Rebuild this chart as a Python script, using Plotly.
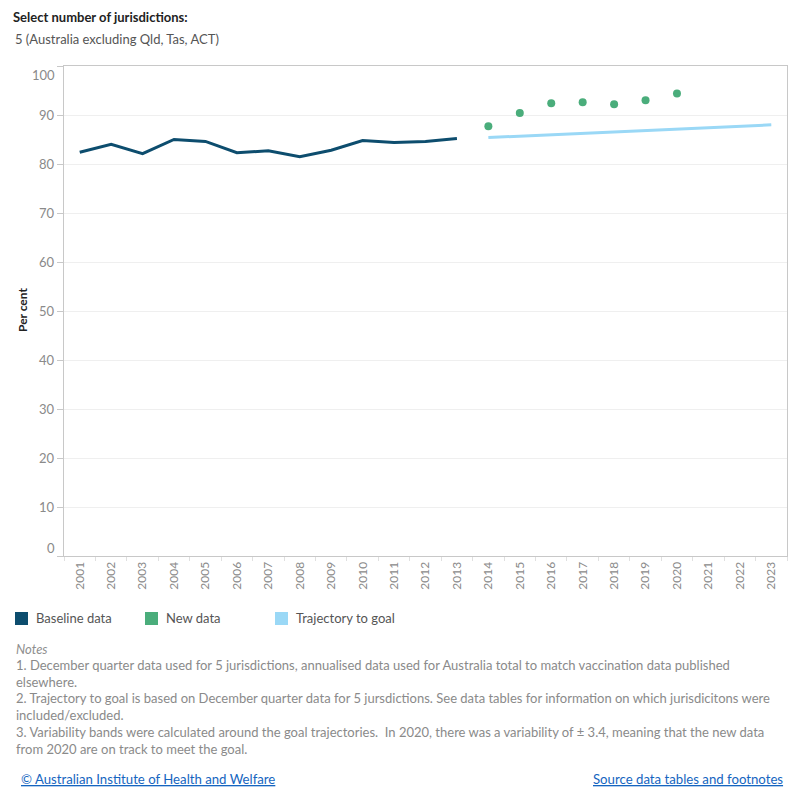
import plotly.graph_objects as go

years = [str(y) for y in range(2001, 2024)]
baseline_years = [str(y) for y in range(2001, 2014)]
baseline_vals = [82.4, 84.0, 82.1, 85.0, 84.6, 82.3, 82.7, 81.5, 82.8, 84.8, 84.4, 84.6, 85.2]
new_years = [str(y) for y in range(2014, 2021)]
new_vals = [87.7, 90.4, 92.4, 92.6, 92.2, 93.0, 94.4]
traj_years = [str(y) for y in range(2014, 2024)]
traj_vals = [85.4, 85.7, 86.0, 86.2, 86.5, 86.8, 87.1, 87.4, 87.7, 88.0]
y_ticks = [0, 10, 20, 30, 40, 50, 60, 70, 80, 90, 100]
legend_names = ["Baseline data", "New data", "Trajectory to goal"]
colors = ["#0d4d6e", "#4aad7b", "#9ad8f6"]

notes = [
    "1. December quarter data used for 5 jurisdictions, annualised data used for Australia total to match vaccination data published",
    "elsewhere.",
    "2. Trajectory to goal is based on December quarter data for 5 jursdictions. See data tables for information on which jurisdicitons were",
    "included/excluded.",
    "3. Variability bands were calculated around the goal trajectories.  In 2020, there was a variability of \u00b1 3.4, meaning that the new data",
    "from 2020 are on track to meet the goal.",
]

FONT = "Lato"
W, H = 800, 800
ML, MR, MT, MB = 64, 13, 66, 244
PW, PH = W - ML - MR, H - MT - MB


def px_x(x):
    return (x - ML) / PW


def px_y(y):
    return (H - MB - y) / PH


fig = go.Figure()
fig.add_trace(go.Scatter(x=baseline_years, y=baseline_vals, mode="lines",
                         line=dict(color=colors[0], width=3), name=legend_names[0]))
fig.add_trace(go.Scatter(x=traj_years, y=traj_vals, mode="lines",
                         line=dict(color=colors[2], width=3), name=legend_names[2]))
fig.add_trace(go.Scatter(x=new_years, y=new_vals, mode="markers",
                         marker=dict(color=colors[1], size=8), name=legend_names[1]))

fig.update_layout(
    width=W, height=H,
    margin=dict(l=ML, r=MR, t=MT, b=MB),
    paper_bgcolor="white", plot_bgcolor="white",
    showlegend=False,
    font=dict(family=FONT, size=12, color="#555"),
)
fig.update_xaxes(type="category", categoryorder="array", categoryarray=years,
                 range=[-0.5, len(years) - 0.5], tickson="boundaries",
                 ticks="outside", ticklen=4, tickcolor="#e0e0e0",
                 tickangle=-90, tickfont=dict(family=FONT, size=12, color="#8a8a8a"),
                 showline=True, mirror=True, linecolor="#c8c8c8", linewidth=1,
                 showgrid=False)
fig.update_yaxes(range=[0, 100], tickvals=y_ticks, showticklabels=False,
                 ticks="outside", ticklen=6, tickcolor="#c8c8c8",
                 showgrid=True, gridcolor="#efefef", gridwidth=1,
                 showline=True, mirror=True, linecolor="#c8c8c8", linewidth=1,
                 zeroline=False)

# y tick labels (Tableau-style: end labels nudged inside)
for v in y_ticks:
    shift = 8 if v == 0 else (-9 if v == 100 else 0)
    fig.add_annotation(x=0, xref="paper", y=v, yref="y", text=str(v), showarrow=False,
                       xanchor="right", xshift=-7, yshift=shift,
                       font=dict(family=FONT, size=13, color="#8a8a8a"))


def text_at(x, y, text, size, color, anchor="left", angle=0):
    fig.add_annotation(x=px_x(x), y=px_y(y), xref="paper", yref="paper",
                       xanchor=anchor, yanchor="middle", text=text, showarrow=False,
                       textangle=angle, font=dict(family=FONT, size=size, color=color))


text_at(22, 310, "<b>Per cent</b>", 12, "#222", anchor="center", angle=-90)
text_at(11, 17, "<b>Select number of jurisdictions:</b>", 13, "#222")
text_at(13, 39, "5 (Australia excluding Qld, Tas, ACT)", 13, "#555")

# legend
leg_x = [15, 145, 275]
for name, c, lx in zip(legend_names, colors, leg_x):
    fig.add_shape(type="rect", xref="paper", yref="paper",
                  x0=px_x(lx), x1=px_x(lx + 13), y0=px_y(625), y1=px_y(612),
                  fillcolor=c, line=dict(width=0))
    text_at(lx + 19, 618, name, 13, "#555")

text_at(14, 649, "<i>Notes</i>", 13, "#8f8f8f")
for i, line in enumerate(notes):
    text_at(14, 665 + i * 16.7, line, 13, "#8a8a8a")

text_at(19, 779, "<u>\u00a9 Australian Institute of Health and Welfare</u>", 13.2, "#1565c0")
text_at(785, 779, "<u>Source data tables and footnotes</u>", 13.2, "#1565c0", anchor="right")

fig.write_html("out.html")
